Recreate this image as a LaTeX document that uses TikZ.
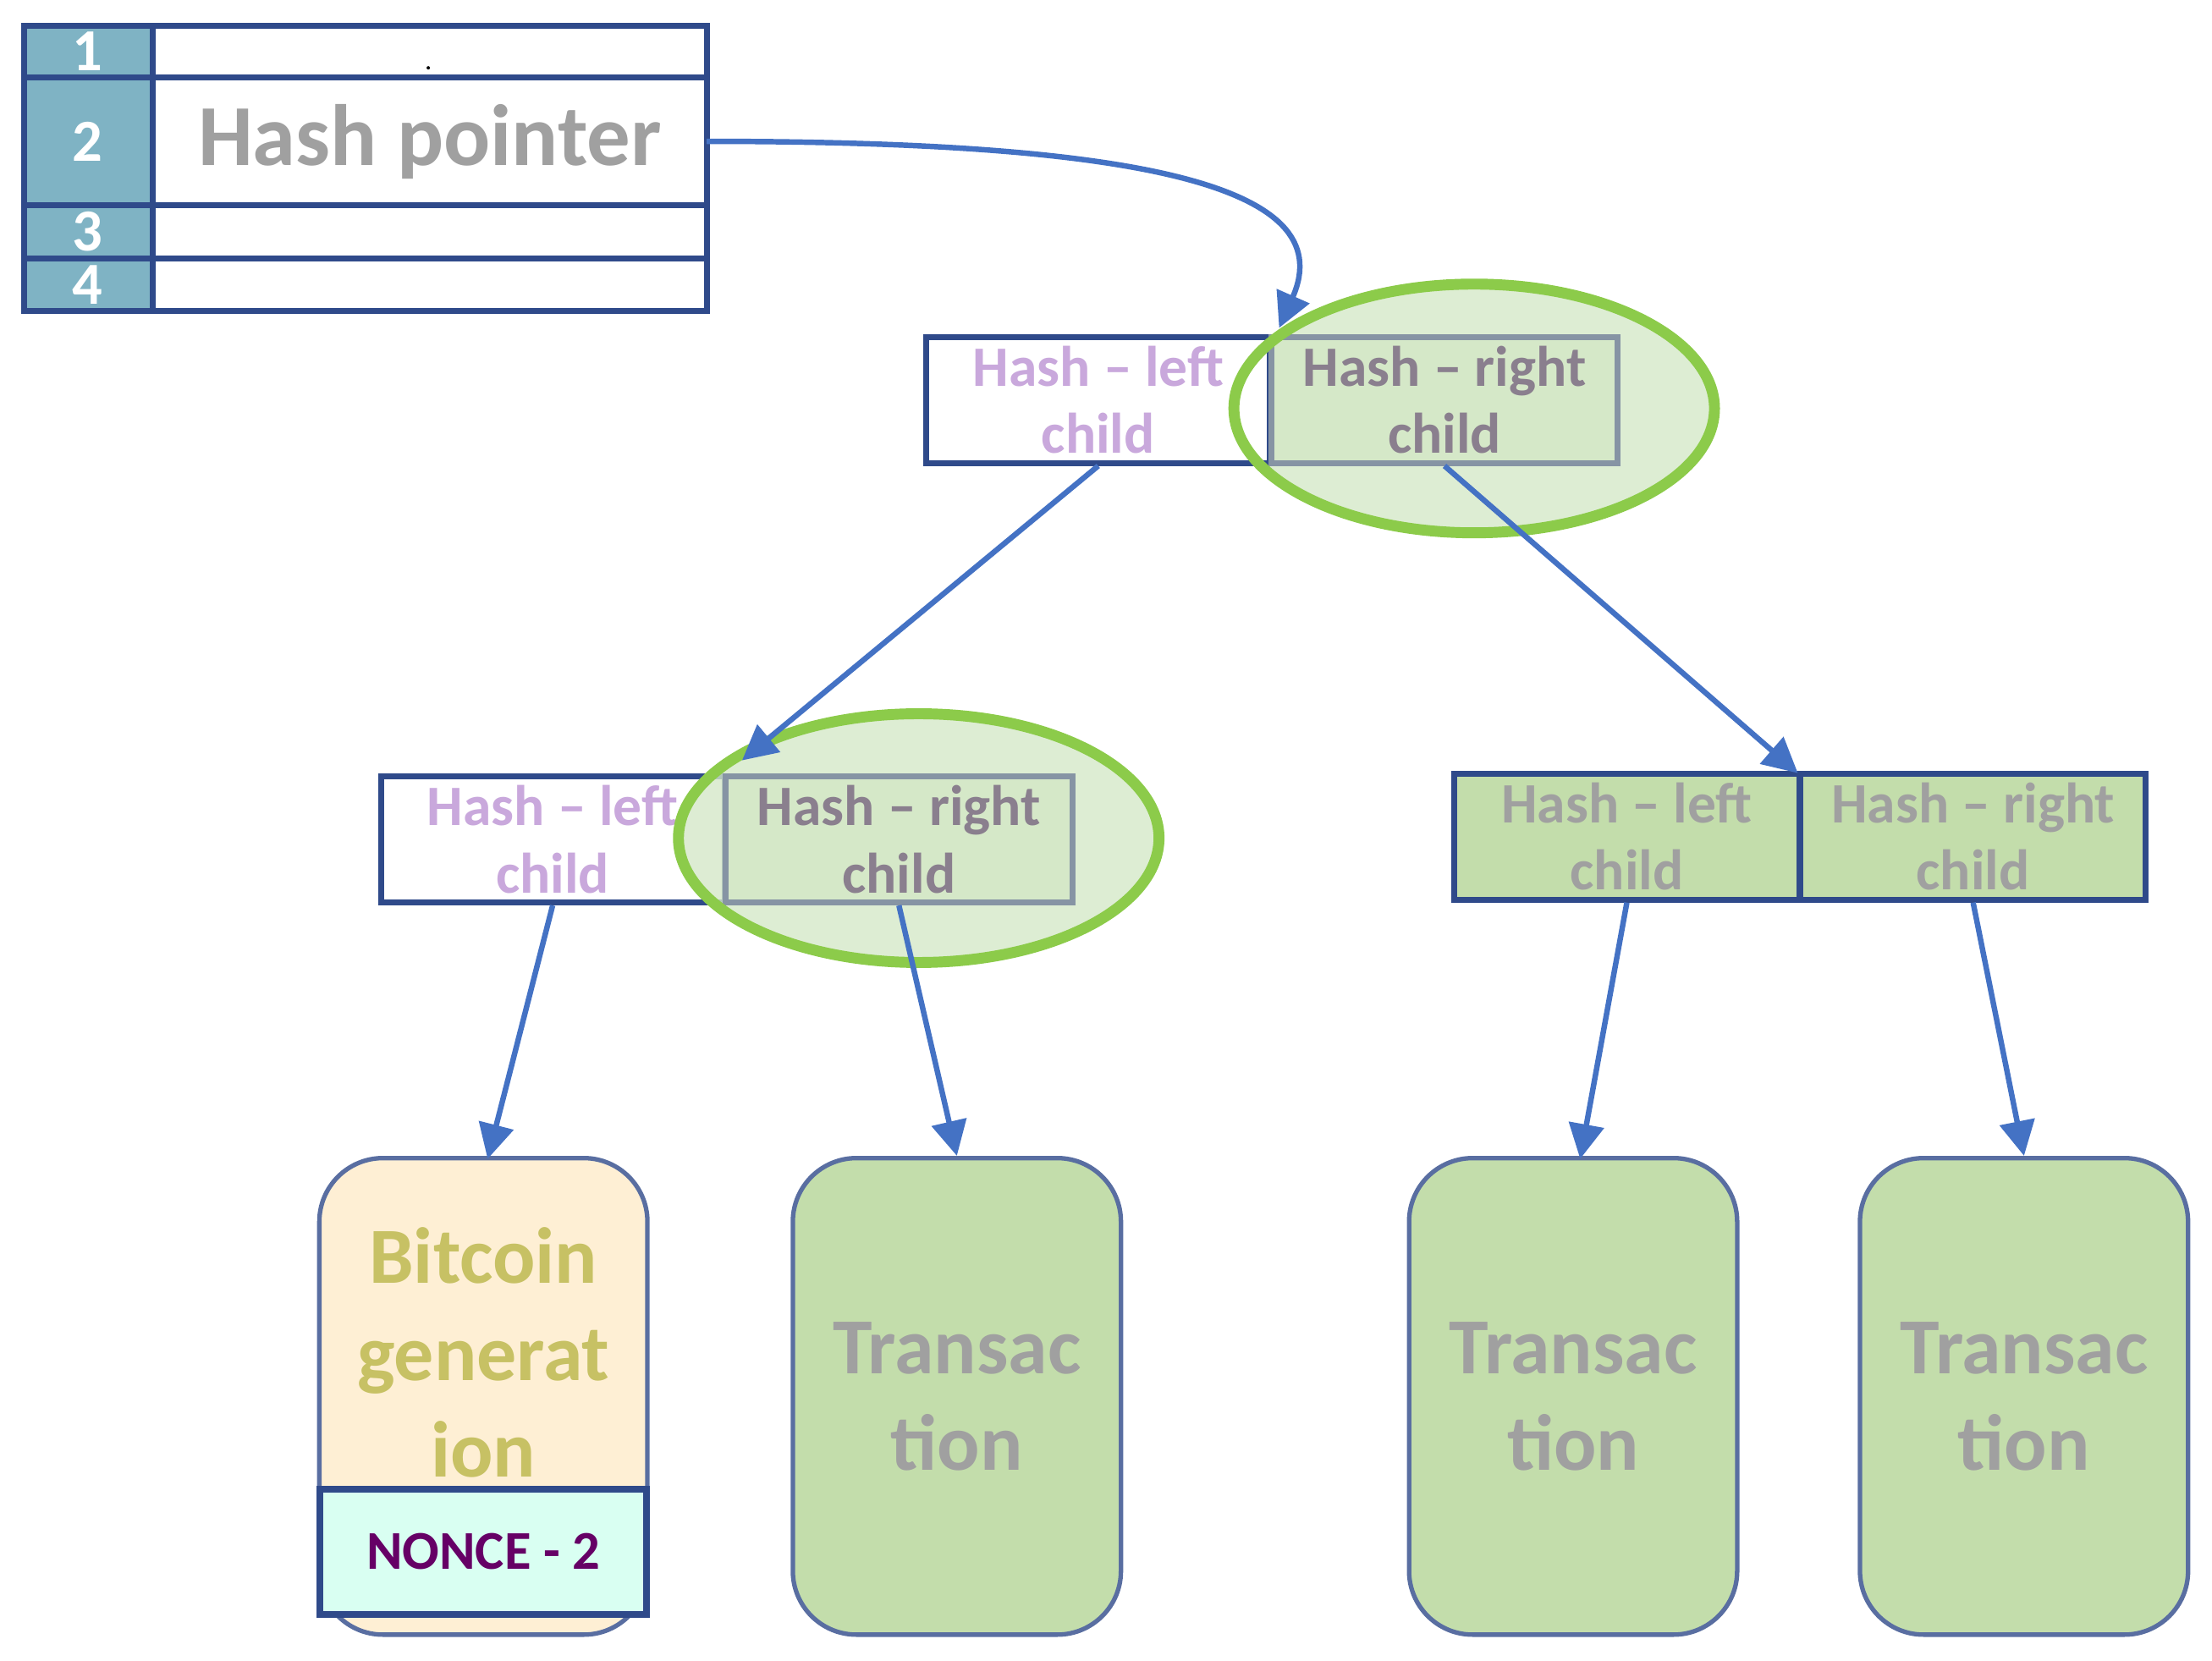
\documentclass[tikz,border=0pt]{standalone}
\usepackage{fontspec}
\setmainfont{Carlito}
\usetikzlibrary{arrows.meta}
\definecolor{dblue}{HTML}{2F4A8A}
\definecolor{tealc}{HTML}{7FB3C4}
\definecolor{arr}{HTML}{4472C4}
\definecolor{lpur}{HTML}{C9A8DC}
\definecolor{gpur}{HTML}{8A7F8E}
\definecolor{lgreen}{HTML}{D5E8C8}
\definecolor{egreen}{HTML}{8CCB4A}
\definecolor{mgreen}{HTML}{C3DDAB}
\definecolor{ttext}{HTML}{A0A0A0}
\begin{document}
\begin{tikzpicture}[x=0.01cm,y=-0.01cm,
 cell/.style={draw=dblue,line width=1.2pt},
 hl/.style={draw=dblue,line width=1.2pt,fill=white,minimum width=2.43cm,minimum height=0.89cm,inner sep=0pt,align=center,font=\bfseries\fontsize{11.5}{13.5}\selectfont,text=lpur},
 hr/.style={draw=gpur!60!tealc,line width=1.2pt,fill=lgreen,minimum width=2.45cm,minimum height=0.89cm,inner sep=0pt,align=center,font=\bfseries\fontsize{11.5}{13.5}\selectfont,text=gpur},
 hg/.style={draw=dblue,line width=1.2pt,fill=mgreen,minimum width=2.44cm,minimum height=0.89cm,inner sep=0pt,align=center,font=\bfseries\fontsize{11.5}{13.5}\selectfont,text=ttext},
 ell/.style={draw=egreen,line width=2.2pt},
 leaf/.style={draw=dblue!80,line width=0.9pt,fill=mgreen,rounded corners=0.45cm,minimum width=2.32cm,minimum height=3.37cm,align=center,inner sep=0pt,font=\bfseries\fontsize{16}{19.5}\selectfont,text=ttext},
 ar/.style={draw=arr,line width=1.1pt,-{Triangle[length=7pt,width=7pt]}}]
\useasboundingbox (0,0) rectangle (1565,1175);
% table
\foreach \a/\b/\t in {18/55/1,55/145/2,145/183/3,183/220/4}{
 \draw[cell,fill=tealc] (17,\a) rectangle (108,\b);
 \draw[cell,fill=white] (108,\a) rectangle (500,\b);
 \node[text=white,font=\bfseries\fontsize{12}{12}\selectfont] at (62,{(\a+\b)/2}) {\t};
}
\node[font=\bfseries\fontsize{17.5}{20}\selectfont,text=ttext] (hp) at (304,100) {Hash pointer};
\fill (303,48) circle (1.2);
\coordinate (hpE) at (500,100);
% top
\fill[lgreen,opacity=0.8] (1043,289) ellipse (170 and 88);
\node[hl] (tl) at (777,283) {Hash -- left\\child};
\node[hr] (tr) at (1022,283) {Hash -- right\\child};
\draw[ell] (1043,289) ellipse (170 and 88);
% mid left
\node[hl] (ml) at (391,594) {Hash -- left\\child};
\fill[lgreen,opacity=0.8] (650,593) ellipse (170 and 88);
\node[hr] (mr) at (636,594) {Hash -- right\\child};
\draw[ell] (650,593) ellipse (170 and 88);
% mid right
\node[hg] (rl) at (1151,592) {Hash -- left\\child};
\node[hg] (rr) at (1396,592) {Hash -- right\\child};
% leaves
\node[leaf,fill=yellow!25!orange!15!white] (bg) at (342,988) {};
\node[font=\bfseries\fontsize{16}{19.5}\selectfont,text=olive!50!white,align=center] at (342,957) {Bitcoin\\generat\\ion};
\node[draw=dblue,line width=1.4pt,fill=green!35!cyan!15!white,minimum width=2.31cm,minimum height=0.89cm,text=violet!80!black,font=\bfseries\fontsize{11}{13}\selectfont] (nonce) at (342,1098) {NONCE - 2};
\node[leaf] (t1) at (677,988) {Transac\\tion};
\node[leaf] (t2) at (1113,988) {Transac\\tion};
\node[leaf] (t3) at (1432,988) {Transac\\tion};
% arrows
\draw[ar] (hpE) .. controls (800,100) and (950,130) .. (905,232);
\draw[ar] (tl.south) -- (525,538);
\draw[ar] (tr.south) -- (1272,547);
\draw[ar] (ml.south) -- (345,820);
\draw[ar] (mr.south) -- (t1.north);
\draw[ar] (rl.south) -- (1118,820);
\draw[ar] (rr.south) -- (t3.north);
\end{tikzpicture}
\end{document}
